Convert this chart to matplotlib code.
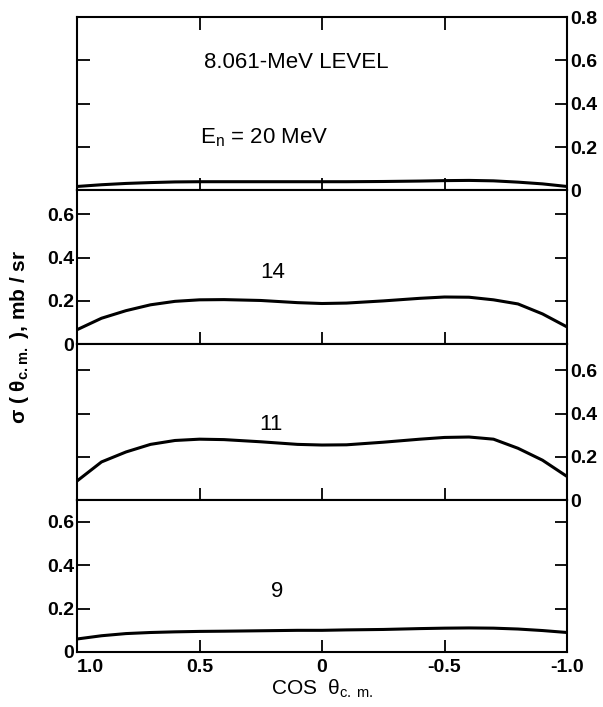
import matplotlib
matplotlib.use('Agg')
import matplotlib.pyplot as plt

plt.rcParams['font.family'] = ['Liberation Sans', 'DejaVu Sans']
plt.rcParams['mathtext.default'] = 'regular'

# cos(theta_cm) sample points
cos_cm = [1.0, 0.9, 0.8, 0.7, 0.6, 0.5, 0.4, 0.25, 0.1, 0.0, -0.1, -0.25,
          -0.4, -0.5, -0.6, -0.7, -0.8, -0.9, -1.0]

# sigma (mb/sr) for each neutron energy
sig_20 = [0.018, 0.026, 0.032, 0.036, 0.039, 0.040, 0.040, 0.040, 0.040, 0.040,
          0.040, 0.041, 0.043, 0.045, 0.046, 0.044, 0.038, 0.030, 0.018]
sig_14 = [0.067, 0.120, 0.155, 0.182, 0.198, 0.205, 0.206, 0.202, 0.192, 0.188,
          0.190, 0.200, 0.212, 0.218, 0.217, 0.205, 0.186, 0.140, 0.080]
sig_11 = [0.089, 0.177, 0.223, 0.258, 0.276, 0.282, 0.280, 0.270, 0.258, 0.255,
          0.256, 0.268, 0.282, 0.290, 0.292, 0.282, 0.240, 0.185, 0.110]
sig_9 = [0.060, 0.075, 0.085, 0.090, 0.093, 0.095, 0.096, 0.098, 0.100, 0.100,
         0.102, 0.104, 0.108, 0.110, 0.111, 0.110, 0.106, 0.099, 0.090]

energies = ['20', '14', '11', '9']
series = [sig_20, sig_14, sig_11, sig_9]
y_tops = [0.8, 0.71, 0.72, 0.70]
label_side = ['right', 'left', 'right', 'left']

x_ticks = [1.0, 0.5, 0.0, -0.5, -1.0]
x_ticklabels = ['1.0', '0.5', '0', '-0.5', '-1.0']

fig = plt.figure(figsize=(6.03, 7.07), dpi=100)
gs = fig.add_gridspec(4, 1, height_ratios=y_tops, hspace=0,
                      left=77/603, right=567/603, top=1-17/707, bottom=1-652/707)

for i, (sig, top, side) in enumerate(zip(series, y_tops, label_side)):
    ax = fig.add_subplot(gs[i])
    ax.plot(cos_cm, sig, color='black', lw=2.2, solid_capstyle='butt')
    ax.set_xlim(1.0, -1.0)
    ax.set_ylim(0, top)
    yt = [0, 0.2, 0.4, 0.6] + ([0.8] if top >= 0.8 else [])
    ax.set_yticks(yt)
    ax.set_yticklabels(['0' if v == 0 else f'{v:.1f}' for v in yt],
                       fontsize=14, fontweight='bold')
    ax.set_xticks(x_ticks)
    for sp in ax.spines.values():
        sp.set_linewidth(1.5)
    ax.tick_params(axis='both', direction='in', length=9, width=1.3)
    ax.tick_params(axis='y', left=True, right=True, pad=2,
                   labelleft=(side == 'left'), labelright=(side == 'right'))
    ax.tick_params(axis='x', top=(i == 0), bottom=True, labelbottom=(i == 3), pad=5)
    if i == 3:
        labels = ax.set_xticklabels(x_ticklabels, fontsize=14, fontweight='bold')
        labels[0].set_horizontalalignment('left')
        ax.set_xlabel(r'COS  $\theta_{c.\,m.}$', fontsize=15, labelpad=1)
    if i == 0:
        ax.text(0.105, 0.59, '8.061-MeV LEVEL', fontsize=16, ha='center', va='center')
        ax.text(0.50, 0.245, r'E$_n$ = 20 MeV', fontsize=16, ha='left', va='center')
    else:
        ly = {1: 0.33, 2: 0.35, 3: 0.28}[i]
        lx = {1: 0.20, 2: 0.21, 3: 0.184}[i]
        ax.text(lx, ly, energies[i], fontsize=16, ha='center', va='center')

fig.text(20/603, 1-337/707, r'$\sigma$ ( $\theta_{c.m.}$ ), mb / sr', rotation=90,
         fontsize=15, fontweight='bold', ha='center', va='center')

fig.savefig('out.png', dpi=100)
